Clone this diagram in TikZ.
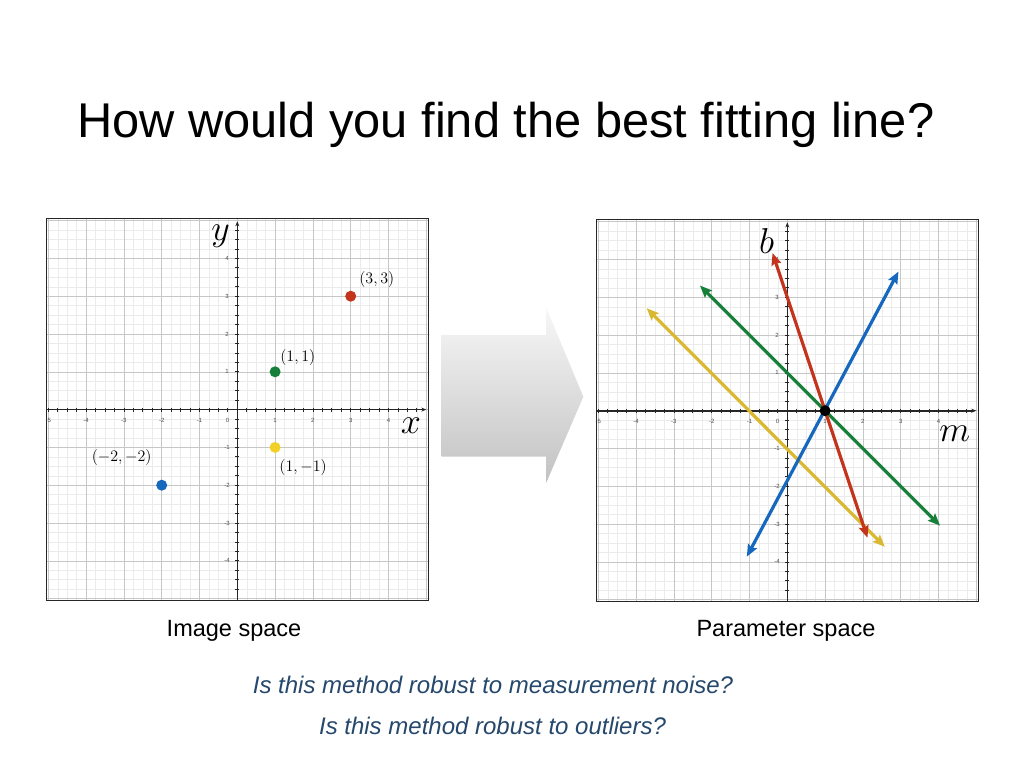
\RequirePackage{fix-cm}
\documentclass[tikz,border=0pt]{standalone}
\usepackage{fontspec}
\setmainfont{Liberation Sans}
\usetikzlibrary{arrows.meta}
\definecolor{pred}{RGB}{196,52,28}
\definecolor{pgreen}{RGB}{22,128,58}
\definecolor{pyellowdot}{RGB}{242,208,42}
\definecolor{pyellow}{RGB}{218,184,48}
\definecolor{pblue}{RGB}{22,104,190}
\definecolor{qblue}{RGB}{38,72,108}
\tikzset{
 minorgrid/.style={draw=black!8, line width=0.5pt},
 majorgrid/.style={draw=black!22, line width=0.6pt},
 axisline/.style={draw=black!85, line width=1.6pt},
 tickmark/.style={draw=black!85, line width=0.8pt},
 ticklabel/.style={font=\fontsize{6}{7}\selectfont, text=black!70, inner sep=0pt},
 dot/.style={circle, inner sep=0pt, minimum size=11pt},
 ptlabel/.style={font=\fontsize{16}{19}\selectfont, inner sep=0pt},
 axislabel/.style={font=\fontsize{36}{40}\selectfont, inner sep=0pt},
 pline/.style={line width=3.2pt, {Stealth[length=12pt,width=10pt,inset=2pt]}-{Stealth[length=12pt,width=10pt,inset=2pt]}},
 caption/.style={font=\fontsize{23.5}{28}\selectfont, inner sep=0pt, anchor=base},
 question/.style={font=\fontsize{24}{28}\selectfont\itshape, text=qblue, inner sep=0pt, anchor=base},
 plotbox/.style={draw=black!85, line width=0.9pt},
}
\newcommand\drawplotgrid[1]{%
 \begin{scope}
  \clip (-5.05,-5.05) rectangle (5.05,5.05);
  \foreach \i in {-21,...,21} {
   \draw[minorgrid] (\i/4,-5.1) -- (\i/4,5.1);
   \draw[minorgrid] (-5.1,\i/4) -- (5.1,\i/4);
  }
  \foreach \i in {-5,...,5} {
   \draw[majorgrid] (\i,-5.1) -- (\i,5.1);
   \draw[majorgrid] (-5.1,\i) -- (5.1,\i);
  }
 \end{scope}
 \draw[plotbox] (-5.05,-5.05) rectangle (5.05,5.05);
 \coordinate (#1xs) at (-5.05,0);
 \coordinate (#1xe) at (5.0,0);
 \coordinate (#1ys) at (0,-5.05);
 \coordinate (#1ye) at (0,4.98);
 \draw[axisline,-{Stealth[length=5pt,width=4pt]}] (#1xs) -- (#1xe);
 \draw[axisline,-{Stealth[length=5pt,width=4pt]}] (#1ys) -- (#1ye);
 \foreach \i in {-20,...,19} {
  \draw[tickmark] (\i/4,0) ++(0,-2pt) -- ++(0,4pt);
 }
 \foreach \i in {-19,...,19} {
  \draw[tickmark] (0,\i/4) ++(-2pt,0) -- ++(4pt,0);
 }
 \node[ticklabel] (#1xl0) at (-0.26,-0.28) {0};
 \foreach \i in {1,...,4} {
  \node[ticklabel] (#1xlp\i) at (\i,-0.28) {\i};
  \node[ticklabel] (#1xln\i) at (-\i,-0.28) {-\i};
  \node[ticklabel] (#1ylp\i) at (-0.27,\i) {\i};
  \node[ticklabel] (#1yln\i) at (-0.27,-\i) {-\i};
 }
 \node[ticklabel] (#1xln5) at (-5.0,-0.28) {-5};
}
\begin{document}
\begin{tikzpicture}[x=1pt,y=-1pt]
\useasboundingbox[fill=white] (0,0) rectangle (1024,768);

\node[anchor=base west, inner sep=0pt] (title) at (77,137.7)
 {\fontsize{48.8}{58}\selectfont How would you find the best fitting line?};

% ---------- Image space ----------
\begin{scope}[shift={(237.3,409.6)}, x=37.8pt, y=37.8pt]
 \drawplotgrid{L}
 \node[dot, fill=pred] (p33) at (3,3) {};
 \node[dot, fill=pgreen] (p11) at (1,1) {};
 \node[dot, fill=pyellowdot] (p1m1) at (1,-1) {};
 \node[dot, fill=pblue] (pm2m2) at (-2,-2) {};
 \node[ptlabel] (l33) at (3.69,3.43) {$(3,3)$};
 \node[ptlabel] (l11) at (1.6,1.38) {$(1,1)$};
 \node[ptlabel] (l1m1) at (1.74,-1.54) {$(1,-1)$};
 \node[ptlabel] (lm2m2) at (-3.06,-1.27) {$(-2,-2)$};
 \node[axislabel] (ylab) at (-0.44,4.59) {$y$};
 \node[axislabel] (xlab) at (4.59,-0.43) {$x$};
\end{scope}

% ---------- Arrow ----------
\shade[top color=black!3, bottom color=black!24]
 (441.7,335) -- (546,335) -- (546,307.3) -- (583.3,396.7) -- (546,483.3)
 -- (546,456.7) -- (441.7,456.7) -- cycle;

% ---------- Parameter space ----------
\begin{scope}[shift={(787.3,410.7)}, x=37.8pt, y=37.8pt]
 \drawplotgrid{R}
 \coordinate (ya) at (-3.72,2.71);
 \coordinate (yb) at (2.58,-3.60);
 \coordinate (ga) at (-2.31,3.31);
 \coordinate (gb) at (4.04,-3.04);
 \coordinate (ba) at (-1.07,-3.86);
 \coordinate (bb) at (2.94,3.68);
 \coordinate (ra) at (-0.39,4.17);
 \coordinate (rb) at (2.12,-3.36);
 \draw[pline, draw=pyellow, fill=pyellow] (ya) -- (yb);
 \draw[pline, draw=pgreen, fill=pgreen] (ga) -- (gb);
 \draw[pline, draw=pblue, fill=pblue] (ba) -- (bb);
 \draw[pline, draw=pred, fill=pred] (ra) -- (rb);
 \node[dot, fill=black] (sol) at (1,0) {};
 \node[axislabel] (blab) at (-0.55,4.5) {$b$};
 \node[axislabel] (mlab) at (4.43,-0.6) {$m$};
\end{scope}

\node[caption] (cap1) at (234,636) {Image space};
\node[caption] (cap2) at (786,636) {Parameter space};

\node[question] (q1) at (493,693.3) {Is this method robust to measurement noise?};
\node[question] (q2) at (492.5,734) {Is this method robust to outliers?};
\end{tikzpicture}
\end{document}
